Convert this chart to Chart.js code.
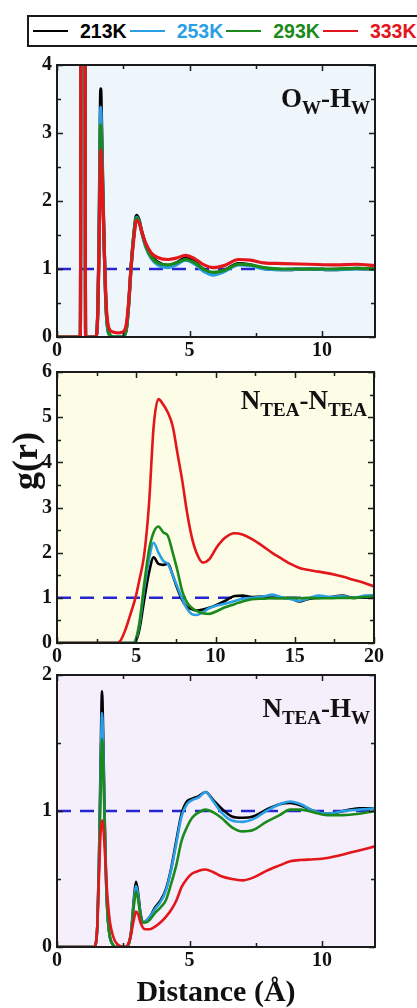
<!DOCTYPE html>
<html>
<head>
<meta charset="utf-8">
<script src="https://cdn.jsdelivr.net/npm/chart.js@4.4.0/dist/chart.umd.min.js"></script>
<style>
  html, body { margin: 0; padding: 0; background: #fff; width: 417px; height: 1008px; overflow: hidden; }
  body { position: relative; }
  canvas { position: absolute; left: 0; }
  .legend {
    position: absolute; left: 27px; top: 15px; width: 430px; height: 28px;
    border: 2px solid #1a1a1a; display: flex; align-items: center;
    font: bold 19.5px "Liberation Sans", Arial, sans-serif; white-space: nowrap;
  }
  .legend .item { display: flex; align-items: center; margin-left: 4px; margin-right: -1px; }
  .legend .swatch { width: 35px; height: 2px; margin-right: 12px; }
  .tag {
    position: absolute; font: bold 27px/27px "Liberation Serif", "Times New Roman", serif;
    color: #111; white-space: nowrap;
  }
  .tag sub { font-size: 19px; line-height: 0; vertical-align: baseline; position: relative; top: 7px; }
  .ylab {
    position: absolute; left: 25px; top: 461px; transform: translate(-50%, -50%) rotate(-90deg);
    font: bold 36px/36px "Liberation Serif", "Times New Roman", serif; color: #111; white-space: nowrap;
  }
</style>
</head>
<body>
<div class="legend" id="legend"></div>
<canvas id="pOH" width="417" height="315" style="top:47px"></canvas>
<canvas id="pNN" width="417" height="313" style="top:354px"></canvas>
<canvas id="pNH" width="417" height="351" style="top:657px"></canvas>
<div class="tag" style="right:47px;top:85px">O<sub>W</sub>-H<sub>W</sub></div>
<div class="tag" style="right:50px;top:387px">N<sub>TEA</sub>-N<sub>TEA</sub></div>
<div class="tag" style="right:47px;top:695px">N<sub>TEA</sub>-H<sub>W</sub></div>
<div class="ylab">g(r)</div>
<script>
// Temperatures and their line colours
const temps = ['213K', '253K', '293K', '333K'];
const tempColors = ['#000000', '#2b9fe6', '#1b8a1b', '#e3161c'];

// O_W-H_W radial distribution function
const distOH = [0, 0.86, 0.88, 0.985, 1.08, 1.10, 1.45, 1.50, 1.54, 1.58, 1.62, 1.65, 1.68, 1.72, 1.76, 1.81, 1.86, 1.92,
  2.0, 2.15, 2.3, 2.45, 2.55, 2.62, 2.7, 2.79, 2.9, 3.0, 3.1, 3.2, 3.35, 3.55, 3.8, 4.2, 4.5, 4.85, 5.2, 5.55, 5.9,
  6.3, 6.85, 7.3, 7.8, 8.5, 9.5, 10.5, 11.3, 12];
const ohK213 = [0, 0, 0, 40, 0, 0, 0, 0.05, 0.4, 1.3, 2.8, 3.65, 3.2, 2.4, 1.7, 0.9, 0.35, 0.1,
  0.02, 0, 0, 0, 0.03, 0.12, 0.45, 1.0, 1.52, 1.79, 1.72, 1.55, 1.35, 1.2, 1.1, 1.05, 1.09, 1.16, 1.1, 0.99, 0.94,
  0.98, 1.08, 1.06, 1.01, 0.99, 1.0, 0.99, 1.01, 1.0];
const ohK253 = [0, 0, 0, 40, 0, 0, 0, 0.05, 0.38, 1.2, 2.6, 3.38, 3.0, 2.3, 1.65, 0.9, 0.36, 0.1,
  0.02, 0, 0, 0, 0.03, 0.12, 0.44, 0.98, 1.5, 1.76, 1.7, 1.53, 1.32, 1.16, 1.06, 1.02, 1.06, 1.13, 1.07, 0.96, 0.91,
  0.96, 1.06, 1.05, 1.0, 0.99, 1.0, 0.99, 1.0, 1.0];
const ohK293 = [0, 0, 0, 40, 0, 0, 0, 0.05, 0.37, 1.15, 2.45, 3.12, 2.85, 2.25, 1.65, 0.92, 0.38, 0.12,
  0.03, 0, 0, 0, 0.03, 0.12, 0.45, 0.99, 1.5, 1.75, 1.7, 1.54, 1.34, 1.18, 1.09, 1.06, 1.09, 1.14, 1.09, 0.99, 0.95,
  0.98, 1.07, 1.06, 1.02, 1.0, 1.0, 1.0, 1.01, 1.0];
const ohK333 = [0, 0, 0, 40, 0, 0, 0, 0.06, 0.4, 1.1, 2.2, 2.75, 2.6, 2.1, 1.6, 0.95, 0.45, 0.2,
  0.1, 0.07, 0.06, 0.07, 0.1, 0.2, 0.5, 1.0, 1.45, 1.71, 1.68, 1.55, 1.38, 1.24, 1.17, 1.14, 1.16, 1.2, 1.15, 1.06, 1.02,
  1.05, 1.14, 1.13, 1.09, 1.08, 1.07, 1.06, 1.07, 1.05];

// N_TEA-N_TEA radial distribution function
const distNN = [0, 3.8, 4.0, 4.3, 4.6, 4.8, 4.95, 5.2, 5.5, 5.8, 6.1, 6.4, 6.7, 7.0, 7.3, 7.6, 7.9, 8.2,
  8.5, 8.8, 9.2, 9.6, 10.1, 10.6, 11.2, 11.7, 12.3, 13.0, 13.6, 14.2, 14.8, 15.3, 15.8, 16.5, 17.3, 18.0, 18.7, 19.4, 20];
const nnK213 = [0, 0, 0, 0, 0, 0, 0.03, 0.3, 0.95, 1.55, 1.9, 1.75, 1.73, 1.76, 1.5, 1.2, 0.95, 0.8,
  0.75, 0.72, 0.74, 0.78, 0.85, 0.93, 1.04, 1.05, 1.02, 1.03, 1.0, 1.0, 0.98, 0.92, 0.97, 1.0, 1.02, 1.05, 1.0, 1.01, 1.02];
const nnK253 = [0, 0, 0, 0, 0, 0, 0.05, 0.4, 1.2, 1.85, 2.22, 2.0, 1.82, 1.75, 1.5, 1.24, 0.98, 0.76,
  0.64, 0.62, 0.68, 0.77, 0.83, 0.87, 0.93, 0.98, 1.0, 1.03, 1.07, 1.01, 0.97, 0.93, 0.98, 1.05, 1.02, 1.04, 1.0, 1.05, 1.06];
const nnK293 = [0, 0, 0, 0, 0, 0, 0.05, 0.45, 1.3, 2.05, 2.45, 2.58, 2.45, 2.37, 2.0, 1.6, 1.15, 0.9,
  0.78, 0.71, 0.66, 0.645, 0.71, 0.79, 0.86, 0.92, 0.97, 0.98, 0.99, 0.99, 1.0, 0.99, 1.0, 0.99, 0.99, 1.0, 1.0, 1.02, 1.03];
const nnK333 = [0, 0, 0.05, 0.28, 0.6, 0.82, 1.0, 1.4, 1.95, 3.05, 4.8, 5.4, 5.28, 5.1, 4.8, 4.2, 3.6, 2.9,
  2.35, 2.0, 1.78, 1.85, 2.13, 2.33, 2.43, 2.4, 2.3, 2.14, 1.99, 1.86, 1.74, 1.66, 1.62, 1.58, 1.53, 1.47, 1.4, 1.33, 1.25];

// N_TEA-H_W radial distribution function
const distNH = [0, 1.40, 1.46, 1.52, 1.58, 1.64, 1.70, 1.74, 1.80, 1.86, 1.92, 2.0, 2.1, 2.2, 2.35, 2.6, 2.72, 2.8,
  2.9, 2.98, 3.06, 3.15, 3.25, 3.35, 3.5, 3.7, 3.9, 4.1, 4.3, 4.5, 4.7, 4.9, 5.1, 5.35, 5.6, 5.9,
  6.2, 6.6, 7.0, 7.4, 7.9, 8.4, 8.8, 9.2, 9.7, 10.2, 10.8, 11.4, 12];
const nhK213 = [0, 0, 0.02, 0.15, 0.6, 1.3, 1.88, 1.6, 0.95, 0.45, 0.2, 0.07, 0.02, 0, 0, 0, 0.03, 0.12,
  0.35, 0.48, 0.4, 0.25, 0.18, 0.19, 0.22, 0.29, 0.34, 0.42, 0.57, 0.78, 0.98, 1.07, 1.09, 1.11, 1.14, 1.08,
  1.02, 0.96, 0.95, 0.96, 1.01, 1.05, 1.06, 1.04, 1.0, 0.98, 1.0, 1.02, 1.02];
const nhK253 = [0, 0, 0.02, 0.15, 0.58, 1.22, 1.72, 1.5, 0.92, 0.44, 0.2, 0.07, 0.02, 0, 0, 0, 0.03, 0.11,
  0.33, 0.45, 0.38, 0.24, 0.18, 0.19, 0.22, 0.28, 0.33, 0.41, 0.56, 0.76, 0.96, 1.05, 1.08, 1.1, 1.14, 1.07,
  0.99, 0.93, 0.92, 0.94, 1.0, 1.05, 1.07, 1.05, 1.0, 0.98, 1.0, 1.01, 1.02];
const nhK293 = [0, 0, 0.02, 0.15, 0.55, 1.1, 1.53, 1.38, 0.88, 0.43, 0.2, 0.07, 0.02, 0, 0, 0, 0.03, 0.1,
  0.3, 0.41, 0.35, 0.23, 0.18, 0.18, 0.2, 0.25, 0.29, 0.34, 0.46, 0.6, 0.78, 0.88, 0.95, 0.99, 1.01, 0.99,
  0.95, 0.88, 0.85, 0.86, 0.92, 0.97, 1.01, 1.01, 0.99, 0.97, 0.97, 0.98, 1.0];
const nhK333 = [0, 0, 0.02, 0.15, 0.5, 0.82, 0.93, 0.9, 0.72, 0.5, 0.33, 0.18, 0.09, 0.04, 0.01, 0, 0.04, 0.1,
  0.2, 0.26, 0.24, 0.18, 0.14, 0.13, 0.13, 0.15, 0.18, 0.22, 0.27, 0.34, 0.44, 0.5, 0.54, 0.56, 0.57, 0.55,
  0.52, 0.5, 0.49, 0.51, 0.56, 0.6, 0.63, 0.64, 0.645, 0.655, 0.68, 0.71, 0.74];

// Axis tick values
const ticksX12 = [0, 5, 10];
const ticksX20 = [0, 5, 10, 15, 20];
const ticksY4 = [0, 1, 2, 3, 4];
const ticksY6 = [0, 1, 2, 3, 4, 5, 6];
const ticksY2 = [0, 1, 2];

// Ideal-gas reference level g(r) = 1
const refLevel = 1;

// Shared legend
const legend = document.getElementById('legend');
temps.forEach((t, i) => {
  const item = document.createElement('div');
  item.className = 'item';
  item.innerHTML = '<span class="swatch" style="background:' + tempColors[i] + '"></span>' +
    '<span style="color:' + tempColors[i] + '">' + t + '</span>';
  legend.appendChild(item);
});

const serif = "'Liberation Serif', 'Times New Roman', serif";
const tickFont = { family: serif, size: 20, weight: 'bold', lineHeight: 1.2 };

// Panel background, inward major/minor ticks on all four sides, and the frame
const framePlugin = {
  id: 'frame',
  beforeDatasetsDraw(chart, args, opts) {
    const { ctx, chartArea: a } = chart;
    ctx.save();
    ctx.fillStyle = opts.background;
    ctx.fillRect(a.left, a.top, a.right - a.left, a.bottom - a.top);
    ctx.restore();
  },
  afterDatasetsDraw(chart) {
    const { ctx, chartArea: a, scales: { x, y } } = chart;
    const marks = (scale) => {
      const vals = scale.ticks.map(t => t.value);
      const step = vals[1] - vals[0];
      const out = [];
      vals.forEach(v => {
        out.push([v, 6]);
        if (v + step / 2 <= scale.max + 1e-9) out.push([v + step / 2, 4]);
      });
      return out;
    };
    ctx.save();
    ctx.strokeStyle = '#1b1b1b';
    ctx.lineWidth = 1.5;
    ctx.beginPath();
    marks(x).forEach(([v, len]) => {
      const px = Math.round(x.getPixelForValue(v)) + 0.5;
      ctx.moveTo(px, a.bottom); ctx.lineTo(px, a.bottom - len);
      ctx.moveTo(px, a.top); ctx.lineTo(px, a.top + len);
    });
    marks(y).forEach(([v, len]) => {
      const py = Math.round(y.getPixelForValue(v)) + 0.5;
      ctx.moveTo(a.left, py); ctx.lineTo(a.left + len, py);
      ctx.moveTo(a.right, py); ctx.lineTo(a.right - len, py);
    });
    ctx.stroke();
    ctx.lineWidth = 2;
    ctx.strokeRect(a.left, a.top, a.right - a.left, a.bottom - a.top);
    ctx.restore();
  }
};

function buildPanel(id, opt) {
  const datasets = opt.series.map((vals, i) => ({
    label: temps[i],
    data: opt.xs.map((x, j) => ({ x: x, y: vals[j] })),
    borderColor: tempColors[i],
    borderWidth: opt.lineWidth,
    pointRadius: 0,
    cubicInterpolationMode: 'monotone',
    order: 4 - i
  }));
  datasets.push({
    label: 'g(r)=1',
    data: [{ x: 0, y: refLevel }, { x: opt.xMax, y: refLevel }],
    borderColor: '#2626d0',
    borderWidth: 2.5,
    borderDash: [14, 9],
    pointRadius: 0,
    order: 10
  });
  return new Chart(document.getElementById(id), {
    type: 'line',
    data: { datasets },
    plugins: [framePlugin],
    options: {
      responsive: false,
      animation: false,
      events: [],
      layout: { padding: { top: 18, right: opt.padRight, bottom: 0, left: 0 } },
      plugins: {
        legend: { display: false },
        tooltip: { enabled: false },
        frame: { background: opt.background }
      },
      scales: {
        x: {
          type: 'linear', min: 0, max: opt.xMax,
          afterBuildTicks: s => { s.ticks = opt.xTicks.map(v => ({ value: v })); },
          afterFit: s => { s.height = opt.xHeight; },
          grid: { display: false, drawTicks: false },
          border: { display: false },
          ticks: { font: tickFont, color: '#111', padding: 2, maxRotation: 0, autoSkip: false },
          title: opt.xTitle ? {
            display: true, text: opt.xTitle, color: '#111',
            font: { family: serif, size: 30, weight: 'bold', lineHeight: 1.0 },
            padding: { top: 0, bottom: 0 }
          } : { display: false }
        },
        y: {
          type: 'linear', min: 0, max: opt.yMax,
          afterBuildTicks: s => { s.ticks = opt.yTicks.map(v => ({ value: v })); },
          afterFit: s => { s.width = 57; },
          grid: { display: false, drawTicks: false },
          border: { display: false },
          ticks: { font: tickFont, color: '#111', padding: 5, autoSkip: false }
        }
      }
    }
  });
}

buildPanel('pOH', {
  xs: distOH, series: [ohK213, ohK253, ohK293, ohK333],
  xMax: 12, yMax: 4, xTicks: ticksX12, yTicks: ticksY4,
  background: '#eef6fc', lineWidth: 3.2, xHeight: 25, padRight: 42
});
buildPanel('pNN', {
  xs: distNN, series: [nnK213, nnK253, nnK293, nnK333],
  xMax: 20, yMax: 6, xTicks: ticksX20, yTicks: ticksY6,
  background: '#fdfde7', lineWidth: 2.6, xHeight: 24, padRight: 43
});
buildPanel('pNH', {
  xs: distNH, series: [nhK213, nhK253, nhK293, nhK333],
  xMax: 12, yMax: 2, xTicks: ticksX12, yTicks: ticksY2,
  background: '#f5effc', lineWidth: 2.6, xHeight: 61, padRight: 42,
  xTitle: 'Distance (Å)'
});
</script>
</body>
</html>
